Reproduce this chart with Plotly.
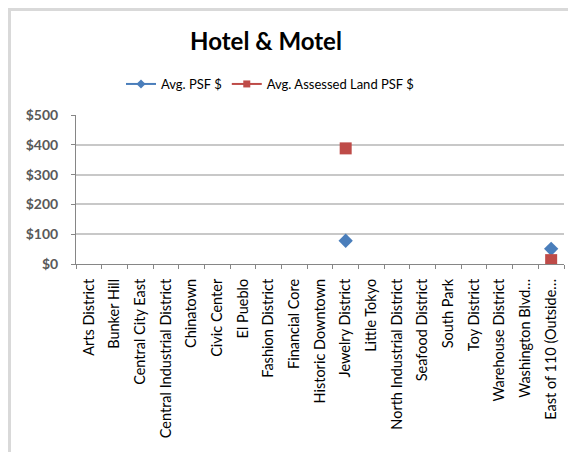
import plotly.graph_objects as go

categories = ["Arts District", "Bunker Hill", "Central City East", "Central Industrial District",
              "Chinatown", "Civic Center", "El Pueblo", "Fashion District", "Financial Core",
              "Historic Downtown", "Jewelry District", "Little Tokyo", "North Industrial District",
              "Seafood District", "South Park", "Toy District", "Warehouse District",
              "Washington Blvd…", "East of 110 (Outside…"]
avg_psf = [None] * 10 + [78] + [None] * 7 + [51]
avg_land_psf = [None] * 10 + [388] + [None] * 7 + [13]
series_names = ["Avg. PSF $", "Avg. Assessed Land PSF $"]
y_ticks = [0, 100, 200, 300, 400, 500]
y_labels = ["$0", "$100", "$200", "$300", "$400", "$500"]

# the page body has an 8px margin: the figure starts at screen (8, 8)
OFF = 8
W, H = 576 - OFF, 452 - OFF
# plot area in screen pixels: x 76..564, y 115..264
L, R, T, B = 76 - OFF, 576 - 564, 115 - OFF, 452 - 264
pw, ph = W - L - R, H - T - B

def px(sx):
    return (sx - OFF - L) / pw

def py(sy):
    return (H - B - (sy - OFF)) / ph

FONT = "Lato, 'Open Sans', sans-serif"
BLUE, RED = "#4A7EBB", "#BE4B48"

fig = go.Figure()
fig.add_trace(go.Scatter(x=categories, y=avg_psf, name=series_names[0], mode="lines+markers",
                         connectgaps=False, showlegend=False,
                         line=dict(color=BLUE, width=2),
                         marker=dict(symbol="diamond", size=11, color=BLUE)))
fig.add_trace(go.Scatter(x=categories, y=avg_land_psf, name=series_names[1],
                         mode="lines+markers", connectgaps=False, showlegend=False,
                         line=dict(color=RED, width=2),
                         marker=dict(symbol="square", size=12, color=RED)))
# legend entries with small markers, as in the original legend
fig.add_trace(go.Scatter(x=[None], y=[None], name=series_names[0], mode="lines+markers",
                         line=dict(color=BLUE, width=2),
                         marker=dict(symbol="diamond", size=7, color=BLUE)))
fig.add_trace(go.Scatter(x=[None], y=[None], name=series_names[1], mode="lines+markers",
                         line=dict(color=RED, width=2),
                         marker=dict(symbol="square", size=7, color=RED)))

FRAME = "#D9D9D9"
fig.update_layout(
    width=W, height=H,
    margin=dict(l=L, r=R, t=T, b=B, autoexpand=False),
    paper_bgcolor="white", plot_bgcolor="white",
    font=dict(family=FONT, color="#000000"),
    title=dict(text="<b>Hotel & Motel</b>", x=(266 - OFF) / W, xanchor="center",
               y=1 - (42 - OFF) / H, yanchor="middle", font=dict(size=24, color="#000000")),
    showlegend=True,
    legend=dict(orientation="h", x=px(270), xanchor="center", y=py(84), yanchor="middle",
                font=dict(size=13, color="#000000"), bgcolor="rgba(0,0,0,0)",
                itemwidth=30, tracegroupgap=0),
    xaxis=dict(type="category", categoryorder="array", categoryarray=categories,
               range=[-0.5, len(categories) - 0.5],
               tickangle=-90, tickson="boundaries", ticks="outside", ticklen=4,
               tickcolor="#868686", showline=True, linecolor="#868686", linewidth=1,
               ticklabelstandoff=8,
               showgrid=False, tickfont=dict(size=14.5, color="#000000"), fixedrange=True),
    yaxis=dict(range=[0, 500], tickvals=y_ticks, ticktext=y_labels, ticks="outside",
               ticklen=4, tickcolor="#868686", showline=True, linecolor="#868686",
               ticklabelstandoff=10,
               showgrid=True, gridcolor="#C8C8C8", gridwidth=1.5, zeroline=False,
               tickfont=dict(size=14, color="#595959", family=FONT, weight="bold"),
               fixedrange=True),
    shapes=[
        dict(type="line", xref="paper", yref="paper", x0=px(9.5), x1=px(9.5),
             y0=py(8), y1=py(470), line=dict(color=FRAME, width=3), layer="below"),
        dict(type="line", xref="paper", yref="paper", x0=px(8), x1=px(590),
             y0=py(9.5), y1=py(9.5), line=dict(color=FRAME, width=3), layer="below"),
    ],
)

fig.write_html("out.html")
